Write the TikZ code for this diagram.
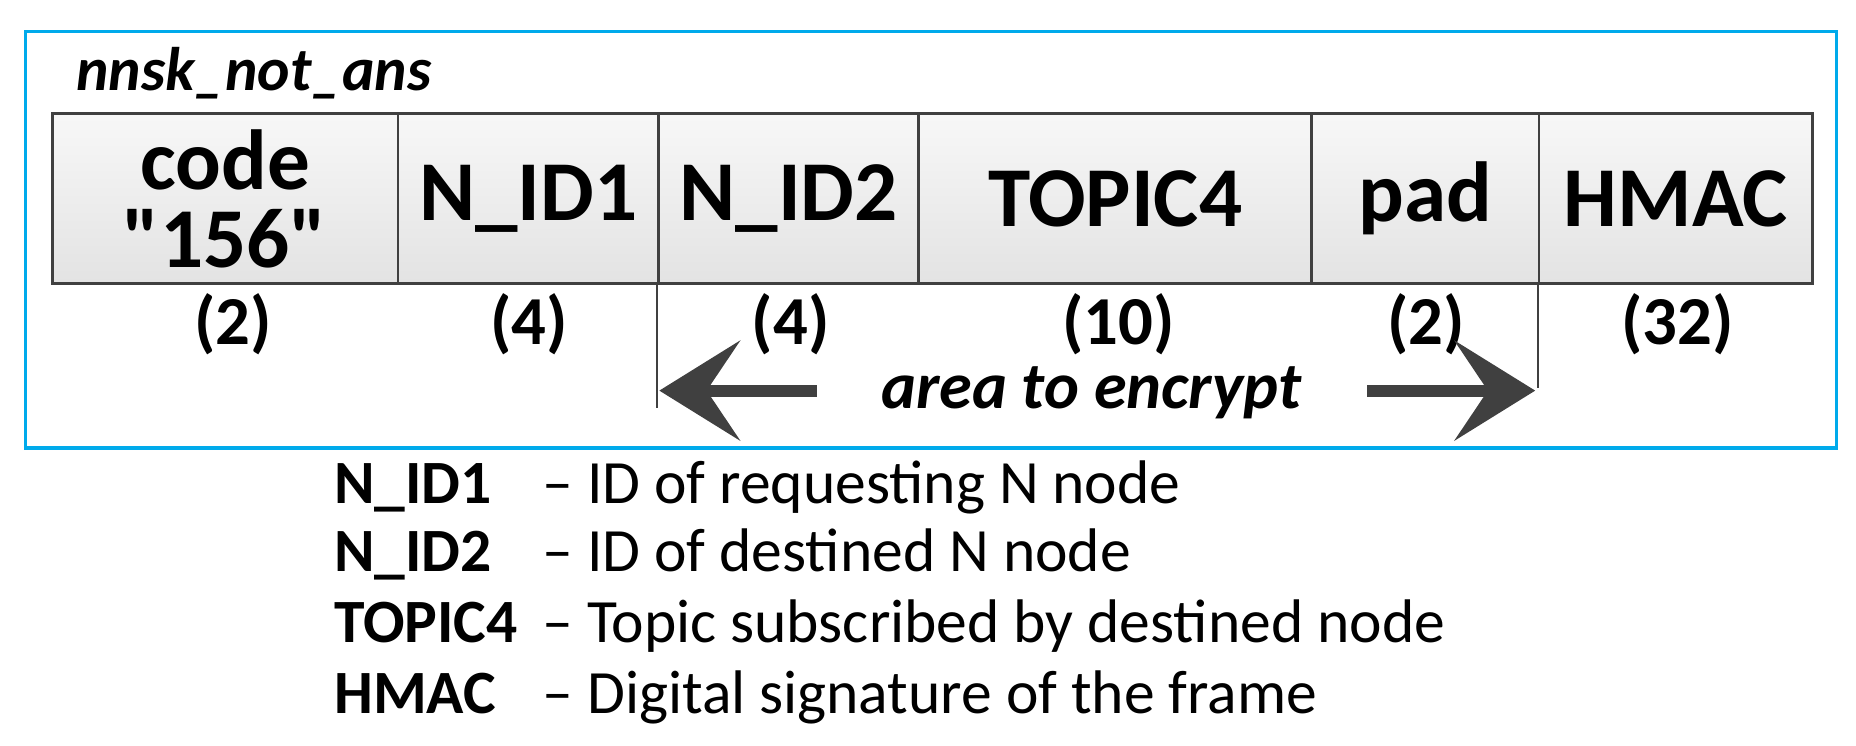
\documentclass[tikz,border=0pt]{standalone}
\usepackage{fontspec}
\setmainfont{Carlito}
\newfontfamily\qfont{Carlito}[Ligatures=TeXOff]
\usetikzlibrary{arrows.meta}
\begin{document}
\begin{tikzpicture}[x=0.5pt,y=-0.5pt,
  field/.style={draw=black!75,line width=1.2pt,top color=gray!6,bottom color=gray!22,inner sep=0pt},
  lbl/.style={font=\bfseries\fontsize{36}{33}\selectfont},
  sz/.style={font=\bfseries\fontsize{29}{29}\selectfont},
  leg/.style={anchor=base west,font=\fontsize{26}{26}\selectfont,inner sep=0pt},
  bigarrow/.style={line width=5pt,draw=black!75,-{Stealth[length=34pt,width=42pt,inset=14pt]}}]
\useasboundingbox (0,0) rectangle (1568,630);
\node[draw={rgb,255:red,0;green,170;blue,235},line width=1.4pt,minimum width=1530*0.5pt,minimum height=352*0.5pt,anchor=north west,inner sep=0pt] (frame) at (20,25) {};
\node[anchor=west,font=\bfseries\itshape\fontsize{26}{26}\selectfont,inner sep=0pt] (title) at (64,62) {nnsk\_not\_ans};
\foreach \n/\a/\b/\t in {f1/43/335/{code\\{\qfont\bfseries "156"}},f2/335/555/N\_ID1,f3/555/775/N\_ID2,f4/775/1107/TOPIC4,f5/1107/1299/pad,f6/1299/1530/HMAC}{
  \node[field,minimum width={(\b-\a)*0.5pt},minimum height=143*0.5pt,anchor=north west] (\n) at (\a,95) {};
  \node[lbl,align=center] at (\n.center) {\t};
}
\foreach \n/\x/\t in {s1/197/(2),s2/447/(4),s3/668/(4),s4/945/(10),s5/1205/(2),s6/1417/(32)}
  \node[sz] (\n) at (\x,274) {\t};
\coordinate (l1) at (555,345); \coordinate (r1) at (1299,328);
\draw[black!75,line width=0.8pt] (f3.south west) -- (l1);
\draw[black!75,line width=0.8pt] (f6.south west) -- (r1);
\node[font=\bfseries\itshape\fontsize{28}{28}\selectfont] (enc) at (922,332) {area to encrypt};
\coordinate (la) at (690,330); \coordinate (lt) at (557,330);
\coordinate (ra) at (1155,330); \coordinate (rt) at (1297,330);
\draw[bigarrow] (la) -- (lt);
\draw[bigarrow] (ra) -- (rt);
\foreach \y/\k/\d in {412/N\_ID1/{ID of requesting N node},470/N\_ID2/{ID of destined N node},530/TOPIC4/{Topic subscribed by destined node},590/HMAC/{Digital signature of the frame}}{
  \node[leg,font=\bfseries\fontsize{26}{26}\selectfont] at (282,\y+13) {\k};
  \node[leg] at (458,\y+13) {– \d};
}
\end{tikzpicture}
\end{document}
